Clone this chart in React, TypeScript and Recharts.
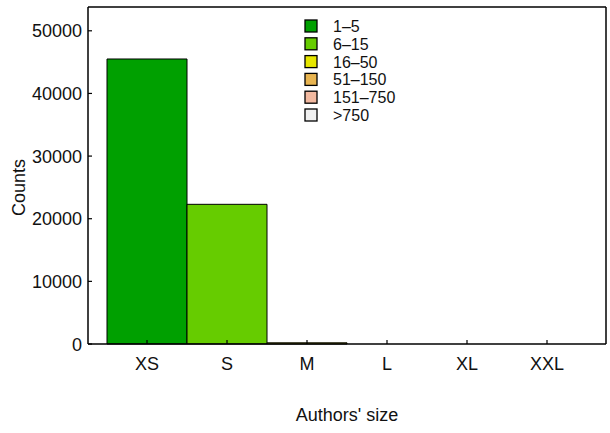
import { BarChart, Bar, Cell, XAxis, YAxis, Legend, Label } from "recharts";

const sizes = ["XS", "S", "M", "L", "XL", "XXL"];
const counts = [45500, 22300, 190, 0, 0, 0];
const bins = ["1–5", "6–15", "16–50", "51–150", "151–750", ">750"];
const binColors = ["#00a000", "#66cc00", "#e6e600", "#e8b450", "#f2b9a0", "#f0f0f0"];
const yTicks = [0, 10000, 20000, 30000, 40000, 50000];

const FONT = "'Liberation Sans', Arial, sans-serif";

const data = sizes.map((s, i) => ({ size: s, count: counts[i] }));

function XTick(props: any) {
  const { x, y, payload } = props;
  return (
    <g>
      <line x1={x} x2={x} y1={y} y2={y - 4} stroke="#000" strokeWidth={1.2} />
      <text x={x} y={y + 26} textAnchor="middle" fontSize={18} fontFamily={FONT} fill="#111">
        {payload.value}
      </text>
    </g>
  );
}

function YTick(props: any) {
  const { x, y, payload } = props;
  return (
    <g>
      <line x1={x} x2={x + 4} y1={y} y2={y} stroke="#000" strokeWidth={1.2} />
      <text x={x - 6} y={y + 6.5} textAnchor="end" fontSize={18} fontFamily={FONT} fill="#111">
        {payload.value}
      </text>
    </g>
  );
}

function BinLegend() {
  return (
    <svg width={110} height={110}>
      {bins.map((b, i) => (
        <g key={b}>
          <rect x={5} y={3 + i * 17.8} width={12} height={12} fill={binColors[i]} stroke="#000" strokeWidth={1.3} />
          <text x={33} y={15 + i * 17.8} fontSize={16} fontFamily={FONT} fill="#111">
            {b}
          </text>
        </g>
      ))}
    </svg>
  );
}

export default function App() {
  return (
    <div style={{ position: "fixed", left: 0, top: 0, background: "#fff" }}>
      <BarChart
        width={610}
        height={433}
        data={data}
        barCategoryGap={0}
        margin={{ top: 6, right: 3, left: 0, bottom: 39 }}
      >
        <XAxis
          dataKey="size"
          height={50}
          padding={{ left: 19, right: 19 }}
          tickSize={0}
          tickMargin={0}
          tickLine={false}
          tick={<XTick />}
          axisLine={{ stroke: "#000", strokeWidth: 1.5 }}
        >
          <Label
            content={({ viewBox }: any) => (
              <text
                x={viewBox.x + viewBox.width / 2}
                y={viewBox.y + 77}
                textAnchor="middle"
                fontSize={18}
                fontFamily={FONT}
                fill="#111"
              >
                Authors' size
              </text>
            )}
          />
        </XAxis>
        <XAxis
          xAxisId="top"
          dataKey="size"
          orientation="top"
          height={1}
          tick={false}
          tickLine={false}
          axisLine={{ stroke: "#000", strokeWidth: 1.5 }}
        />
        <YAxis
          width={88}
          domain={[0, 53800]}
          ticks={yTicks}
          interval={0}
          tickSize={0}
          tickMargin={0}
          tickLine={false}
          tick={<YTick />}
          axisLine={{ stroke: "#000", strokeWidth: 1.5 }}
        >
          <Label
            content={({ viewBox }: any) => {
              const cx = viewBox.x + 25;
              const cy = viewBox.y + viewBox.height / 2 + 12;
              return (
                <text
                  x={cx}
                  y={cy}
                  transform={`rotate(-90, ${cx}, ${cy})`}
                  textAnchor="middle"
                  fontSize={18}
                  fontFamily={FONT}
                  fill="#111"
                >
                  Counts
                </text>
              );
            }}
          />
        </YAxis>
        <YAxis
          yAxisId="right"
          orientation="right"
          width={1}
          domain={[0, 53800]}
          tick={false}
          tickLine={false}
          axisLine={{ stroke: "#000", strokeWidth: 1.5 }}
        />
        <Legend
          layout="vertical"
          align="center"
          verticalAlign="middle"
          wrapperStyle={{ position: "absolute", top: 17, left: 300, width: 110 }}
          content={() => <BinLegend />}
        />
        <Bar dataKey="count" stroke="#000" strokeWidth={1} isAnimationActive={false}>
          {data.map((d, i) => (
            <Cell key={d.size} fill={binColors[i]} />
          ))}
        </Bar>
      </BarChart>
    </div>
  );
}
